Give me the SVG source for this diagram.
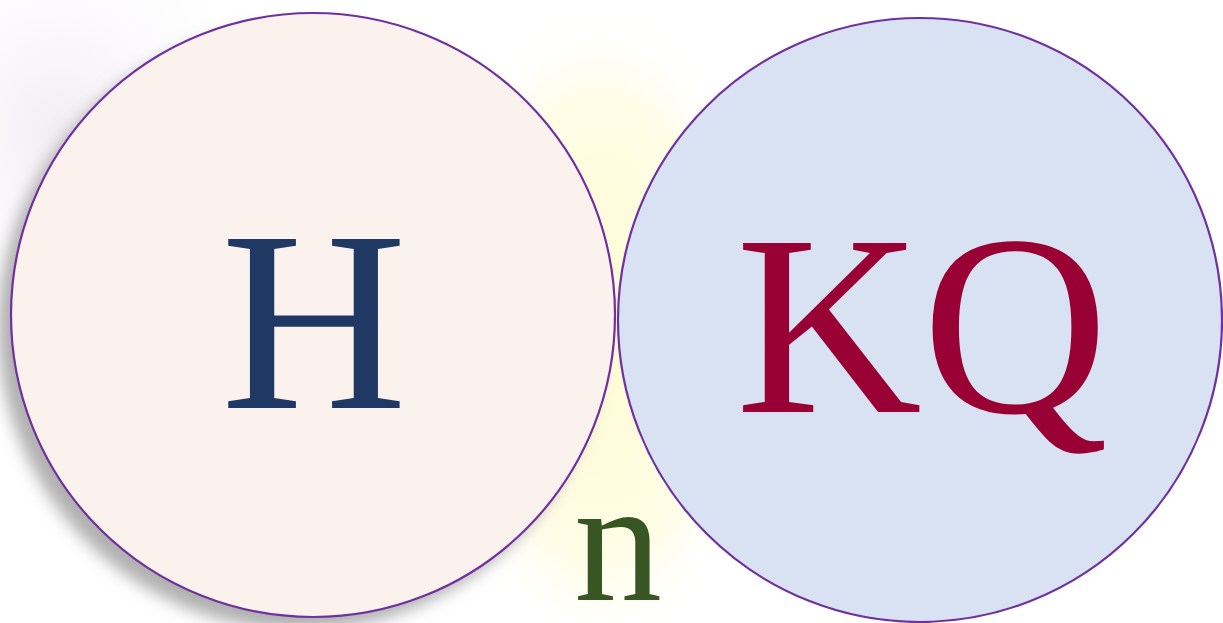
<svg xmlns="http://www.w3.org/2000/svg" width="1223" height="623" viewBox="0 0 1223 623">
<style>
.ring{stroke:#7030a0;stroke-width:2.2}
.lbl{font-family:"Liberation Serif","Times New Roman",serif;text-anchor:middle}
</style>
<defs>
<radialGradient id="glowY" cx="0.5" cy="0.5" r="0.5">
<stop offset="0" stop-color="#fffbd2"/>
<stop offset="0.7" stop-color="#fffde6"/>
<stop offset="1" stop-color="#ffffff" stop-opacity="0"/>
</radialGradient>
<radialGradient id="glowL" cx="0.5" cy="0.5" r="0.5">
<stop offset="0" stop-color="#f3ecf4"/>
<stop offset="1" stop-color="#ffffff" stop-opacity="0"/>
</radialGradient>
<filter id="shadow" x="-20%" y="-20%" width="140%" height="140%">
<feGaussianBlur stdDeviation="8"/>
</filter>
</defs>
<rect width="1223" height="623" fill="#ffffff"/>
<ellipse cx="600" cy="330" rx="170" ry="330" fill="url(#glowY)"/>
<ellipse cx="60" cy="130" rx="230" ry="260" fill="url(#glowL)"/>
<g id="node-H">
<circle cx="300" cy="328" r="302" fill="#b0b0b0" filter="url(#shadow)"/>
<circle class="ring" cx="313" cy="315" r="302" fill="#fbf2ed"/>
<text class="lbl" x="314" y="408" font-size="258" fill="#1f3864">H</text>
</g>
<g id="node-KQ">
<circle class="ring" cx="920" cy="320" r="302" fill="#d9e2f2"/>
<text class="lbl" x="922" y="412" font-size="258" fill="#990033">KQ</text>
</g>
<g id="node-n">
<text class="lbl" x="618" y="600" font-size="176" fill="#375623">n</text>
</g>
<g id="connectors"/>
</svg>
